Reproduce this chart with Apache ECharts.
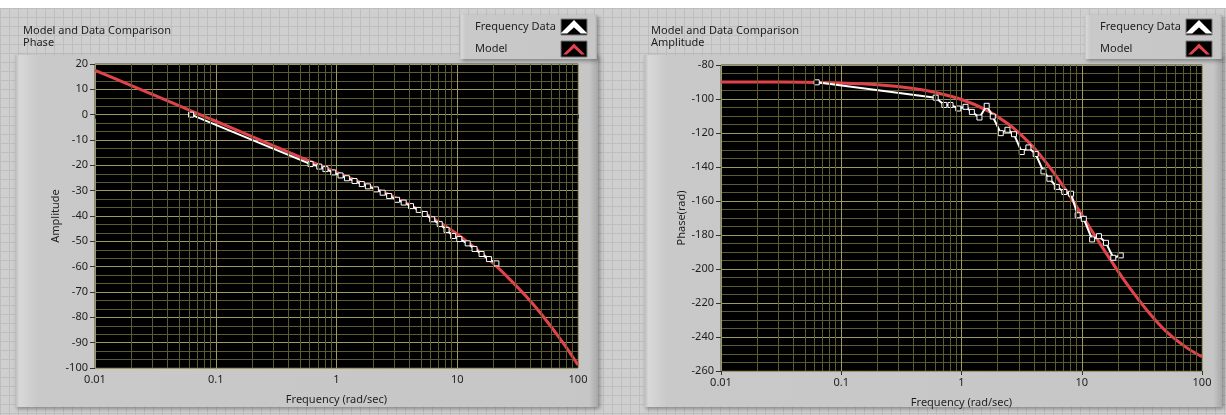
<!DOCTYPE html>
<html><head><meta charset="utf-8">
<script src="https://cdn.jsdelivr.net/npm/echarts@6/dist/echarts.min.js"></script>
<style>
html,body{margin:0;padding:0;background:#fff;}
#bg{position:absolute;left:0;top:8px;width:1226px;height:407px;background-color:#cfcfcf;
background-image:linear-gradient(#bebebe 1px, transparent 1px),linear-gradient(90deg,#bebebe 1px,transparent 1px);background-size:9px 9px;}
#chart{position:absolute;left:0;top:0;width:1226px;height:415px;}
</style></head><body><div id="bg"></div><div id="chart"></div>
<script>
// ---------- DATA ----------
const xTickLabels = ['0.01', '0.1', '1', '10', '100'];
// measured frequency points (rad/sec)
const dataFreq = [0.0625, 0.61, 0.72, 0.81, 0.94, 1.08, 1.22, 1.41, 1.62, 1.82, 2.12, 2.41, 2.73, 3.17, 3.60, 4.14, 4.80, 5.38, 6.20, 7.16, 8.15, 9.25, 10.4, 12.2, 13.9, 15.9, 18.3, 21.1];
// left panel ("Phase" chart, y = Amplitude) measured values
const leftData = [0, -19.5, -20.5, -21.5, -22.8, -24.0, -25.1, -26.2, -27.4, -28.3, -29.5, -30.8, -32.1, -33.6, -34.7, -36.1, -37.6, -39.2, -41.3, -43.2, -45.5, -47.9, -49.1, -50.8, -53.0, -55.0, -57.0, -58.7];
// right panel ("Amplitude" chart, y = Phase(rad)) measured values
const rightData = [-90.2, -99.2, -103.5, -103.5, -105.6, -104.6, -107.6, -110.9, -104.0, -110.3, -120.1, -118.1, -120.7, -131.2, -128.5, -132.4, -142.6, -146.9, -151.7, -154.7, -155.7, -168.4, -170.5, -182.6, -180.7, -184.6, -193.4, -192.0];
// model curve sample frequencies
const modelFreq = [0.01, 0.02, 0.05, 0.1, 0.2, 0.4, 0.6, 1, 1.6, 2.4, 3, 4, 5.5, 7.5, 10, 14, 20, 27, 37, 50, 75, 100];
const leftModel = [17.5, 11.5, 3.5, -2.6, -8.7, -14.8, -18.3, -22.8, -26.8, -30.4, -32.5, -35.5, -39.2, -43.2, -47.2, -52.6, -58.8, -64.8, -71.6, -78.9, -90.0, -98.8];
const rightModel = [-90.0, -90.0, -90.2, -90.6, -91.6, -93.8, -96.0, -100.3, -106.4, -114.3, -119.9, -128.7, -140.8, -154.3, -168.1, -184.5, -201.2, -214.2, -226.5, -236.5, -246.4, -251.6];

// ---------- STYLE ----------
const FONT = 'Noto Sans';
const TXT = '#1e1e1e';
const MAJOR = '#9c9a5e';
const MINOR = '#5c5b32';
const RED = '#e2434a';

const minorX = [];
[0.01, 0.1, 1, 10].forEach(d => { for (let k = 2; k <= 9; k++) minorX.push(+(k * d).toPrecision(3)); });

const pair = (xs, ys) => xs.map((x, i) => [x, ys[i]]);
const chevron = 'path://M0,11 L10,1 L20,11 L16.5,11 L10,5 L3.5,11 Z';

function xAx(gi) {
  return {
    type: 'log', logBase: 10, min: 0.01, max: 100, gridIndex: gi,
    name: 'Frequency (rad/sec)', nameLocation: 'middle', nameGap: 26,
    nameTextStyle: { fontSize: 11, color: TXT, fontFamily: FONT },
    axisLine: { show: false },
    axisTick: { show: true, length: 4, lineStyle: { color: '#333' } },
    axisLabel: { fontSize: 11, color: TXT, fontFamily: FONT, margin: 6,
      formatter: v => xTickLabels[Math.round(Math.log10(v)) + 2] },
    splitLine: { show: true, lineStyle: { color: MAJOR, width: 1 } }
  };
}
function yAx(gi, min, max, interval, name, minorSplit) {
  return {
    type: 'value', gridIndex: gi, min, max, interval,
    name, nameLocation: 'middle', nameGap: 33,
    nameTextStyle: { fontSize: 11, color: TXT, fontFamily: FONT },
    axisLine: { show: false },
    axisTick: { show: true, length: 5, lineStyle: { color: '#333' } },
    axisLabel: { fontSize: 11, color: TXT, fontFamily: FONT, margin: 7 },
    splitLine: { show: true, lineStyle: { color: MAJOR, width: 1 } },
    minorTick: { show: false, splitNumber: minorSplit },
    minorSplitLine: { show: true, lineStyle: { color: MINOR, width: 1 } }
  };
}
function minorSeries(i) {
  return {
    type: 'line', xAxisIndex: i, yAxisIndex: i, data: [], silent: true, z: 1,
    markLine: { silent: true, symbol: 'none', animation: false, label: { show: false },
      lineStyle: { color: MINOR, width: 1, type: 'solid' },
      emphasis: { disabled: true },
      data: minorX.map(v => ({ xAxis: v })) }
  };
}
function modelSeries(i, ys) {
  return { name: 'Model', type: 'line', xAxisIndex: i, yAxisIndex: i, z: 3,
    data: pair(modelFreq, ys), showSymbol: false, smooth: 0.3,
    lineStyle: { color: RED, width: 3 }, itemStyle: { color: RED } };
}
function dataSeries(i, ys) {
  return { name: 'Frequency Data', type: 'line', xAxisIndex: i, yAxisIndex: i, z: 4,
    data: pair(dataFreq, ys), symbol: 'rect', symbolSize: 5, showSymbol: true,
    lineStyle: { color: '#ffffff', width: 2 },
    itemStyle: { color: '#000000', borderColor: '#ffffff', borderWidth: 1 } };
}
function legend(left) {
  return {
    orient: 'vertical', left, top: 19, align: 'right', itemGap: 6, padding: 0,
    itemWidth: 22, itemHeight: 12,
    formatter: name => '{t|' + name + '}',
    textStyle: { fontSize: 11, color: TXT, fontFamily: FONT, lineHeight: 16,
      rich: { t: { width: 83, align: 'left', fontSize: 11, color: TXT, fontFamily: FONT, lineHeight: 16 } } },
    data: [
      { name: 'Frequency Data', icon: chevron, itemStyle: { color: '#ffffff' } },
      { name: 'Model', icon: chevron, itemStyle: { color: RED } }
    ]
  };
}
const shadow = { shadowBlur: 4, shadowColor: 'rgba(0,0,0,0.35)', shadowOffsetX: 2, shadowOffsetY: 2 };
function frame(x, y, w, h, z) {
  return { type: 'rect', z, shape: { x, y, width: w, height: h }, silent: true,
    style: Object.assign({ fill: new echarts.graphic.LinearGradient(0, 0, 1, 0, [
      { offset: 0, color: '#bababa' }, { offset: 0.008, color: '#d8d8d8' },
      { offset: 0.04, color: '#c9c9c9' }, { offset: 0.985, color: '#c6c6c6' },
      { offset: 1, color: '#a8a8a8' }]) }, shadow) };
}
function blackBox(x, y) {
  return { type: 'rect', z: -4, shape: { x, y, width: 26, height: 16 }, silent: true,
    style: { fill: '#000', stroke: '#777', lineWidth: 1 } };
}

const chart = echarts.init(document.getElementById('chart'), null, { renderer: 'canvas' });
chart.setOption({
  animation: false,
  textStyle: { fontFamily: FONT },
  title: [
    { text: 'Model and Data Comparison\nPhase', left: 18, top: 20,
      textStyle: { fontSize: 11, fontWeight: 'normal', color: TXT, fontFamily: FONT, lineHeight: 12 } },
    { text: 'Model and Data Comparison\nAmplitude', left: 646, top: 20,
      textStyle: { fontSize: 11, fontWeight: 'normal', color: TXT, fontFamily: FONT, lineHeight: 12 } }
  ],
  graphic: [
    frame(15, 55, 583, 352, -10),
    frame(644, 55, 578, 352, -10),
    frame(460, 15, 137, 44, -6),
    frame(1085, 15, 137, 44, -6),
    blackBox(561, 19), blackBox(561, 41),
    blackBox(1186, 19), blackBox(1186, 41)
  ],
  legend: [legend(475), legend(1100)],
  grid: [
    { left: 95, top: 64, width: 483, height: 304, show: true, backgroundColor: '#000', borderColor: '#444', borderWidth: 1 },
    { left: 721, top: 65, width: 481, height: 306, show: true, backgroundColor: '#000', borderColor: '#444', borderWidth: 1 }
  ],
  xAxis: [xAx(0), xAx(1)],
  yAxis: [yAx(0, -100, 20, 10, 'Amplitude', 3), yAx(1, -260, -80, 20, 'Phase(rad)', 4)],
  series: [
    minorSeries(0), minorSeries(1),
    modelSeries(0, leftModel), dataSeries(0, leftData),
    modelSeries(1, rightModel), dataSeries(1, rightData)
  ]
});
</script></body></html>
